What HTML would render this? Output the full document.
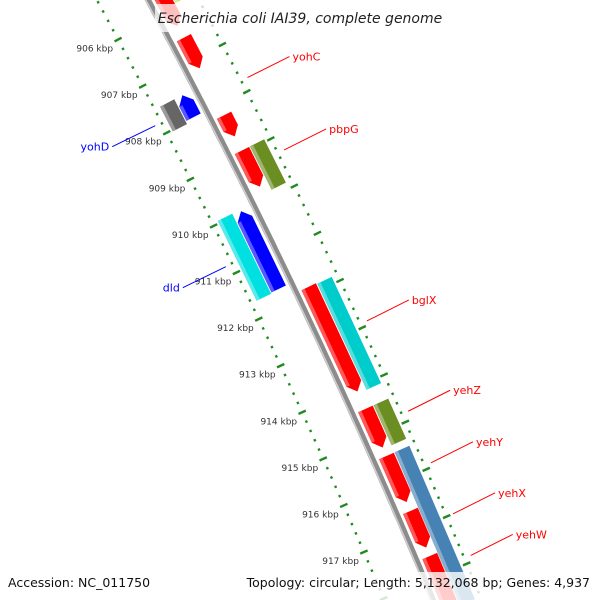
<!DOCTYPE html>
<html><head><meta charset="utf-8">
<style>
html,body{margin:0;padding:0;background:#fff;width:600px;height:600px;overflow:hidden;}
svg{display:block;font-family:"DejaVu Sans","Liberation Sans",sans-serif;}
</style></head>
<body>
<svg id="map" width="600" height="600" viewBox="0 0 600 600" xmlns="http://www.w3.org/2000/svg">
<g id="rings"></g>
<path id="backbone" fill="none" stroke="#8c8c8c" stroke-width="6"/>
<path id="backbone-edge" fill="none" stroke="#cfcfcf" stroke-width="1.5"/>
<g id="features"></g>
<g id="labels"></g>
<rect x="155" y="4" width="290" height="28" fill="#fff" fill-opacity="0.75"/>
<text x="300" y="23" text-anchor="middle" font-size="14" font-style="italic" fill="#222">Escherichia coli IAI39, complete genome</text>
<rect x="0" y="572" width="600" height="28" fill="#fff" fill-opacity="0.8"/>
<text x="8" y="587" font-size="12.5" fill="#111">Accession: NC_011750</text>
<text x="590" y="587" font-size="12.5" text-anchor="end" fill="#111">Topology: circular; Length: 5,132,068 bp; Genes: 4,937</text>
</svg>
<script>
// Data (kbp)
const featNames = ["f1","f2","f3","f4","f5","f6","f7","f8","f9","f10","f11","f12","f13","f14","f15","f16","f17","f18"];
const featStart = [905.2,906.55,908.2,908.95,911.85,914.45,915.45,916.62,917.58,904.8,908.95,911.87,914.45,915.45,907.5,909.98,907.5,909.95];
const featEnd   = [906.3,907.2,908.65,909.72,914.08,915.27,916.43,917.4,918.9,905.9,909.87,914.12,915.3,918.7,907.97,911.64,908.03,911.66];
const featTrack = [1,1,1,1,1,1,1,1,1,2,2,2,2,2,-1,-1,-2,-2];
const featColor = ["#ff0000","#ff0000","#ff0000","#ff0000","#ff0000","#ff0000","#ff0000","#ff0000","#ff0000","#b5e06a","#6b8e23","#00cccc","#6b8e23","#4682b4","#0000ff","#0000ff","#666666","#00e0e0"];
const featArrow = [1,1,1,1,1,1,1,1,1,0,0,0,0,0,-1,-1,0,0];
const tickKbp = [906,907,908,909,910,911,912,913,914,915,916,917];
const tickLabels = ["906 kbp","907 kbp","908 kbp","909 kbp","910 kbp","911 kbp","912 kbp","913 kbp","914 kbp","915 kbp","916 kbp","917 kbp"];
const geneNames = ["yohC","pbpG","bglX","yehZ","yehY","yehX","yehW","yohD","dld"];
const geneKbp   = [907.77,909.3,912.92,914.83,915.92,917.0,917.88,907.78,910.81];
const geneColor = ["red","red","red","red","red","red","red","blue","blue"];

const NS="http://www.w3.org/2000/svg";
function yb(k){return 206+(k-910)*46.9;}
function pt(k,off){
  const y=yb(k), x=148+0.535*y-0.0001*y*y, m=0.535-0.0002*y, n=Math.sqrt(1+m*m);
  return [x+off/n, y-off*m/n];
}
function mk(tag,attrs,parent){const e=document.createElementNS(NS,tag);for(const a in attrs)e.setAttribute(a,attrs[a]);parent.appendChild(e);return e;}
let d="";for(let k=904;k<=919.2;k+=0.1){const p=pt(k,0);d+=(d?"L":"M")+p[0].toFixed(1)+","+p[1].toFixed(1);}
document.getElementById("backbone").setAttribute("d",d);
let d2="";for(let k=904;k<=919.2;k+=0.1){const p=pt(k,-2);d2+=(d2?"L":"M")+p[0].toFixed(1)+","+p[1].toFixed(1);}
document.getElementById("backbone-edge").setAttribute("d",d2);
const rings=document.getElementById("rings");
[45,-45].forEach(function(r){
  for(let i=0;i<=75;i++){
    const k=904+i*0.2, major=(i%5===0);
    const L=major?4:1.2;
    const a=pt(k,r-L), b=pt(k,r+L);
    const ln=mk("line",{x1:a[0],y1:a[1],x2:b[0],y2:b[1],stroke:"#1f8a1f","stroke-width":2.4},rings);
    
    
  }
});
const labels=document.getElementById("labels");
tickKbp.forEach(function(k,i){
  const p=pt(k,-45);
  const t=mk("text",{x:p[0]-5,y:p[1]+12,"text-anchor":"end","font-size":"9",fill:"#333"},labels);
  t.textContent=tickLabels[i];
  
  
});
const feats=document.getElementById("features");
const trackOff={1:14,2:31,"-1":-14,"-2":-31};
function lighten(c){const n=parseInt(c.slice(1),16);let r=n>>16,g=(n>>8)&255,b=n&255;r=Math.round(r+(255-r)*0.35);g=Math.round(g+(255-g)*0.35);b=Math.round(b+(255-b)*0.35);return "rgb("+r+","+g+","+b+")";}
featStart.forEach(function(s,i){
  const e=featEnd[i], c=trackOff[featTrack[i]], o1=c-8, o2=c+8, h=0.17, dir=featArrow[i];
  let pts;
  if(dir===1) pts=[pt(s,o1),pt(e-h,o1),pt(e,c),pt(e-h,o2),pt(s,o2)];
  else if(dir===-1) pts=[pt(s+h,o1),pt(e,o1),pt(e,o2),pt(s+h,o2),pt(s,c)];
  else pts=[pt(s,o1),pt(e,o1),pt(e,o2),pt(s,o2)];
  const g=mk("polygon",{points:pts.map(p=>p[0].toFixed(1)+","+p[1].toFixed(1)).join(" "),fill:featColor[i]},feats);
  
  
  const s2=dir===-1?s+h:s, e2=dir===1?e-h:e;
  const hl=[pt(s2,o1),pt(e2,o1),pt(e2,o1+3.5),pt(s2,o1+3.5)];
  const hp=mk("polygon",{points:hl.map(p=>p[0].toFixed(1)+","+p[1].toFixed(1)).join(" "),fill:lighten(featColor[i])},feats);
  
  
});
geneNames.forEach(function(nm,i){
  const out=geneColor[i]==="red";
  const p=pt(geneKbp[i],out?52:-52);
  const q=out?[p[0]+42,p[1]-21]:[p[0]-43,p[1]+21];
  const ln=mk("line",{x1:p[0],y1:p[1],x2:q[0],y2:q[1],stroke:geneColor[i],"stroke-width":1},labels);
  
  
  const t=mk("text",{x:out?q[0]+3:q[0]-3,y:q[1]+4,"text-anchor":out?"start":"end","font-size":"11",fill:geneColor[i]},labels);
  t.textContent=nm;
  
  
});
</script>
</body></html>
